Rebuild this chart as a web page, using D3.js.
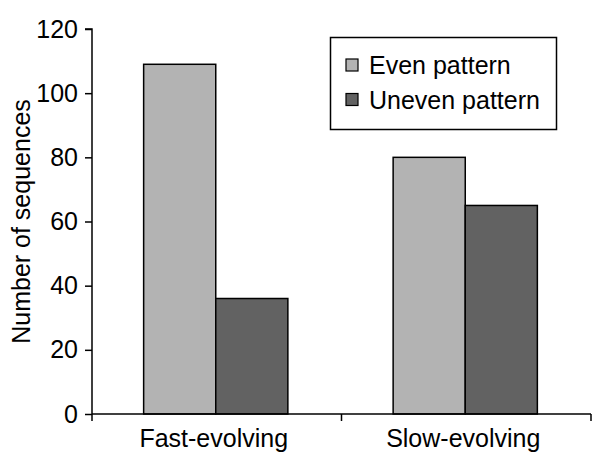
<!DOCTYPE html>
<html><head><meta charset="utf-8">
<script src="https://cdn.jsdelivr.net/npm/d3@7"></script>
<style>body{margin:0;background:#fff}svg{display:block}text{font-family:"Liberation Sans",Arial,sans-serif;fill:#000}</style>
</head><body><svg id="c" width="600" height="476"></svg>
<script>
const categories = ["Fast-evolving", "Slow-evolving"];
const seriesNames = ["Even pattern", "Uneven pattern"];
const evenValues = [109, 80];
const unevenValues = [36, 65];
const yTicks = [0, 20, 40, 60, 80, 100, 120];
const colors = ["#b3b3b3", "#626262"];

const svg = d3.select("#c");
const x0 = 92, x1 = 591, yTop = 29, yBot = 414;
const x = d3.scaleBand().domain(categories).range([x0, x1]).paddingInner(0).paddingOuter(0);
const xs = d3.scaleBand().domain(seriesNames).range([0, x.bandwidth()]).paddingInner(0).paddingOuter(0.73);
const y = d3.scaleLinear().domain([0, 120]).range([yBot, yTop]);
const series = [evenValues, unevenValues];

const g = svg.append("g");
categories.forEach((c, i) => {
  seriesNames.forEach((s, j) => {
    g.append("rect")
      .attr("x", x(c) + xs(s) - 1)
      .attr("y", y(series[j][i]))
      .attr("width", xs.bandwidth())
      .attr("height", y(0) - y(series[j][i]))
      .attr("fill", colors[j])
      .attr("stroke", "#000").attr("stroke-width", 1.5);
  });
});

// y axis
const yAxis = d3.axisLeft(y).tickValues(yTicks).tickSize(7).tickPadding(7);
const ya = svg.append("g").attr("transform", `translate(${x0},0)`).call(yAxis);
ya.selectAll("text").style("font-size", "25px").attr("font-family", null);
ya.select(".domain").attr("d", `M-7,${yTop}H0V${yBot}`).attr("stroke-width", 1.5);
ya.selectAll(".tick line").attr("stroke-width", 1.5);

// x axis
const xa = svg.append("g").attr("transform", `translate(0,${yBot})`);
xa.append("line").attr("x1", x0).attr("x2", x1).attr("y1", 0).attr("y2", 0).attr("stroke", "#000").attr("stroke-width", 1.5);
const xTickPos = [x0, ...categories.map(c => x(c) + x.bandwidth())];
xTickPos.forEach(p => xa.append("line").attr("x1", p).attr("x2", p).attr("y1", 0).attr("y2", 7).attr("stroke", "#000").attr("stroke-width", 1.5));
categories.forEach(c => {
  xa.append("text").attr("x", x(c) + x.bandwidth() / 2 - 3).attr("y", 33).attr("text-anchor", "middle").style("font-size", "25px").text(c);
});

// y title
svg.append("text").attr("transform", `translate(30,${(yTop + yBot) / 2}) rotate(-90)`).attr("text-anchor", "middle").style("font-size", "25px").text("Number of sequences");

// legend
const lg = svg.append("g");
lg.append("rect").attr("x", 330.5).attr("y", 37.5).attr("width", 226).attr("height", 92).attr("fill", "#fff").attr("stroke", "#000").attr("stroke-width", 1.5);
seriesNames.forEach((s, j) => {
  const cy = 65 + j * 34.5;
  lg.append("rect").attr("x", 346).attr("y", cy - 6).attr("width", 12).attr("height", 12).attr("fill", colors[j]).attr("stroke", "#000").attr("stroke-width", 1.2);
  lg.append("text").attr("x", 369).attr("y", cy + 9).style("font-size", "25px").text(s);
});
</script></body></html>
